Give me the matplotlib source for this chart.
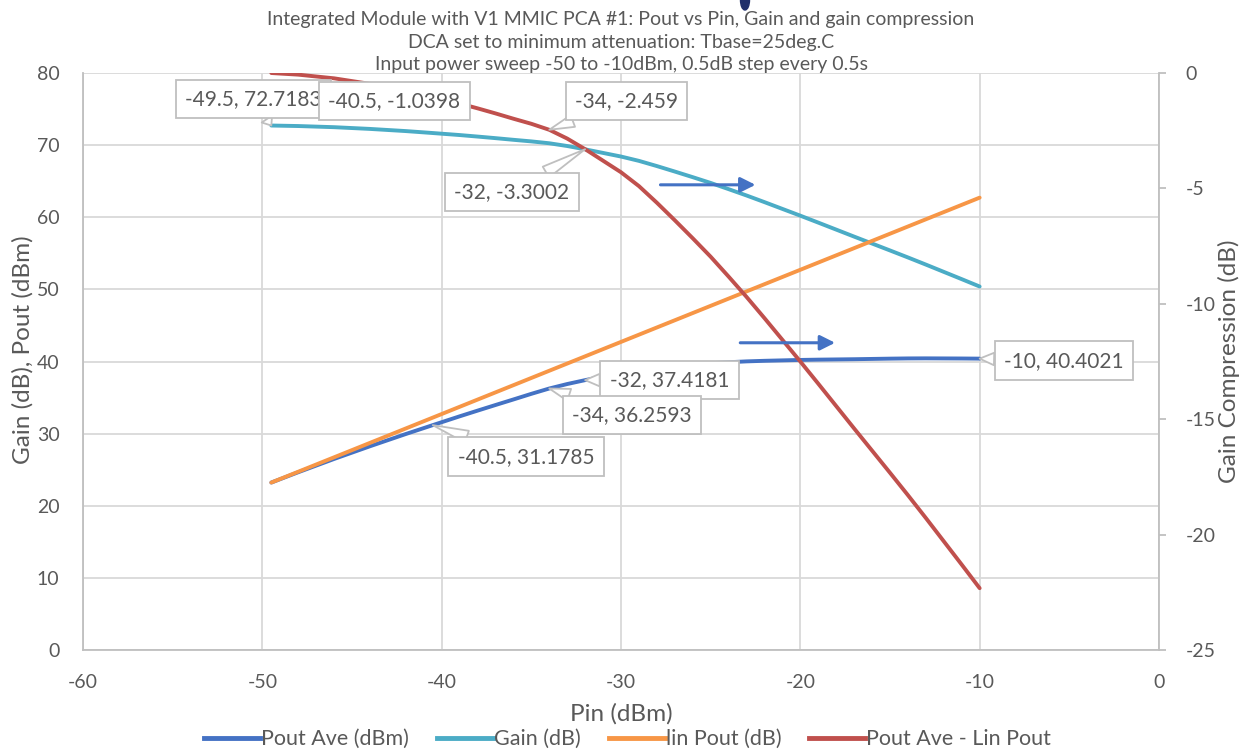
import matplotlib
matplotlib.use("Agg")
import matplotlib.pyplot as plt
from matplotlib.lines import Line2D
from matplotlib.patches import Ellipse

plt.rcParams['font.family'] = ['Lato', 'DejaVu Sans']
plt.rcParams['axes.unicode_minus'] = False

# ─── DATOS ───────────────────────────────────────────────────
pin = [-49.5, -48, -46, -44, -42, -40.5, -39, -38, -37, -36, -35, -34, -33, -32,
       -31, -30, -29, -28, -27, -26, -25, -24, -23, -22, -21, -20, -19, -18,
       -17, -16, -15, -14, -13, -12, -11, -10]

pout_ave = [23.22, 24.65, 26.49, 28.25, 29.95, 31.18, 32.40, 33.19, 33.97, 34.74,
            35.52, 36.26, 36.88, 37.42, 37.92, 38.42, 38.82, 39.10, 39.34, 39.56,
            39.76, 39.90, 40.02, 40.10, 40.16, 40.22, 40.26, 40.29, 40.32, 40.36,
            40.40, 40.43, 40.44, 40.43, 40.42, 40.40]

gain = [72.72, 72.65, 72.49, 72.25, 71.95, 71.68, 71.40, 71.19, 70.97, 70.74,
        70.52, 70.26, 69.88, 69.42, 68.92, 68.42, 67.82, 67.10, 66.34, 65.56,
        64.76, 63.90, 63.02, 62.10, 61.16, 60.22, 59.26, 58.29, 57.32, 56.36,
        55.40, 54.43, 53.44, 52.43, 51.42, 50.40]

lin_pout = [23.22, 24.72, 26.72, 28.72, 30.72, 32.22, 33.72, 34.72, 35.72, 36.72,
            37.72, 38.72, 39.72, 40.72, 41.72, 42.72, 43.72, 44.72, 45.72, 46.72,
            47.72, 48.72, 49.72, 50.72, 51.72, 52.72, 53.72, 54.72, 55.72, 56.72,
            57.72, 58.72, 59.72, 60.72, 61.72, 62.72]

compresion = [0.00, -0.07, -0.23, -0.47, -0.77, -1.04, -1.32, -1.53, -1.75, -1.98,
              -2.20, -2.46, -2.84, -3.30, -3.80, -4.30, -4.90, -5.62, -6.38, -7.16,
              -7.96, -8.82, -9.70, -10.62, -11.56, -12.50, -13.46, -14.43, -15.40,
              -16.36, -17.32, -18.29, -19.28, -20.29, -21.30, -22.32]

# etiquetas de datos: (texto, eje, x, y, x_texto, y_texto)
etiquetas = [
    ("-49.5, 72.7183", "izq", -49.5, 72.7183, -50.5, 76.4),
    ("-40.5, -1.0398", "der", -40.5, -1.0398, -42.65, -1.21),
    ("-34, -2.459", "der", -34, -2.459, -29.7, -1.21),
    ("-32, -3.3002", "der", -32, -3.3002, -36.1, -5.16),
    ("-32, 37.4181", "izq", -32, 37.4181, -27.3, 37.45),
    ("-34, 36.2593", "izq", -34, 36.2593, -29.4, 32.6),
    ("-40.5, 31.1785", "izq", -40.5, 31.1785, -35.3, 26.8),
    ("-10, 40.4021", "izq", -10, 40.4021, -5.3, 40.1),
]

# flechas dibujadas a mano (x0, x1, y en eje izquierdo)
flechas = [(-27.8, -22.5, 64.5), (-23.35, -18.06, 42.6)]

C_POUT = '#4472C4'
C_GAIN = '#4BACC6'
C_LIN = '#F79646'
C_COMP = '#C0504D'
GRIS_TXT = '#595959'
GRIS_GRID = '#D9D9D9'
# ─────────────────────────────────────────────────────────────

fig = plt.figure(figsize=(12.43, 7.52), dpi=100)
ax = fig.add_axes([0.0668, 0.1356, 0.8656, 0.7673])
ax2 = ax.twinx()

ax.set_xlim(-60, 0)
ax.set_ylim(0, 80)
ax2.set_ylim(-25, 0)
ax.set_xticks(range(-60, 1, 10))
ax.set_yticks(range(0, 81, 10))
ax2.set_yticks(range(-25, 1, 5))

ax.grid(True, color=GRIS_GRID, lw=1.3)
ax.set_axisbelow(True)
for a in (ax, ax2):
    for s in a.spines.values():
        s.set_visible(False)
ax.spines['left'].set_visible(True)
ax.spines['bottom'].set_visible(True)
ax2.spines['right'].set_visible(True)
for s in (ax.spines['left'], ax.spines['bottom'], ax2.spines['right']):
    s.set_color('#BFBFBF')
    s.set_linewidth(1.3)

ax.tick_params(axis='x', length=0, labelsize=14, colors=GRIS_TXT, pad=17)
ax.tick_params(axis='y', length=0, labelsize=14, colors=GRIS_TXT, pad=17)
ax2.tick_params(axis='y', length=5, width=1.3, color='#BFBFBF',
                labelsize=14, labelcolor=GRIS_TXT, pad=14)

ax.plot(pin, pout_ave, color=C_POUT, lw=2.8, solid_capstyle='round')
ax.plot(pin, gain, color=C_GAIN, lw=2.8, solid_capstyle='round')
ax.plot(pin, lin_pout, color=C_LIN, lw=2.8, solid_capstyle='round')
ax2.plot(pin, compresion, color=C_COMP, lw=2.8, solid_capstyle='round')

ax.set_xlabel("Pin (dBm)", fontsize=17.5, color=GRIS_TXT, labelpad=9)
ax.set_ylabel("Gain (dB), Pout (dBm)", fontsize=17.5, color=GRIS_TXT)
ax2.set_ylabel("Gain Compression (dB)", fontsize=17.5, color=GRIS_TXT)
ax.yaxis.set_label_coords(-0.046, 0.52)
ax2.yaxis.set_label_coords(1.055, 0.5)

titulo = ("Integrated Module with V1 MMIC PCA #1: Pout vs Pin, Gain and gain compression\n"
          "DCA set to minimum attenuation: Tbase=25deg.C\n"
          "Input power sweep -50 to -10dBm, 0.5dB step every 0.5s")
ax.set_title(titulo, fontsize=14, color=GRIS_TXT, linespacing=1.38, pad=1)

# mancha azul recortada en el borde superior
fig.patches.append(Ellipse((745 / 1243, 1.0), 9 / 1243, 20 / 752,
                           transform=fig.transFigure, color='#1F2F6B'))

for x0, x1, y in flechas:
    ax2.annotate("", xy=(x1, y), xytext=(x0, y),
                 xycoords=ax.transData, textcoords=ax.transData,
                 arrowprops=dict(arrowstyle='-|>,head_length=0.9,head_width=0.45',
                                 color=C_POUT, lw=2.2, shrinkA=0, shrinkB=0))

for i, (txt, eje, x, y, tx, ty) in enumerate(etiquetas):
    tr = ax.transData if eje == "izq" else ax2.transData
    ax2.annotate(txt, xy=(x, y), xytext=(tx, ty), xycoords=tr, textcoords=tr,
                 ha='center', va='center', fontsize=15, color=GRIS_TXT,
                 zorder=5 + i,
                 bbox=dict(boxstyle='square,pad=0.45', fc='white', ec='#BFBFBF', lw=1.3),
                 arrowprops=dict(arrowstyle='wedge,tail_width=0.6,shrink_factor=0.5',
                                 fc='white', ec='#BFBFBF', lw=1.3,
                                 shrinkA=0, shrinkB=0))

handles = [Line2D([], [], color=c, lw=3.5) for c in (C_POUT, C_GAIN, C_LIN, C_COMP)]
nombres = ["Pout Ave (dBm)", "Gain (dB)", "lin Pout (dB)", "Pout Ave - Lin Pout"]
fig.legend(handles, nombres, loc='lower center', bbox_to_anchor=(0.505, -0.022),
           ncol=4, frameon=False, fontsize=15.5, handlelength=2.6, handletextpad=0.05,
           columnspacing=1.3, labelcolor=GRIS_TXT)

fig.savefig("out.png", dpi=100)
